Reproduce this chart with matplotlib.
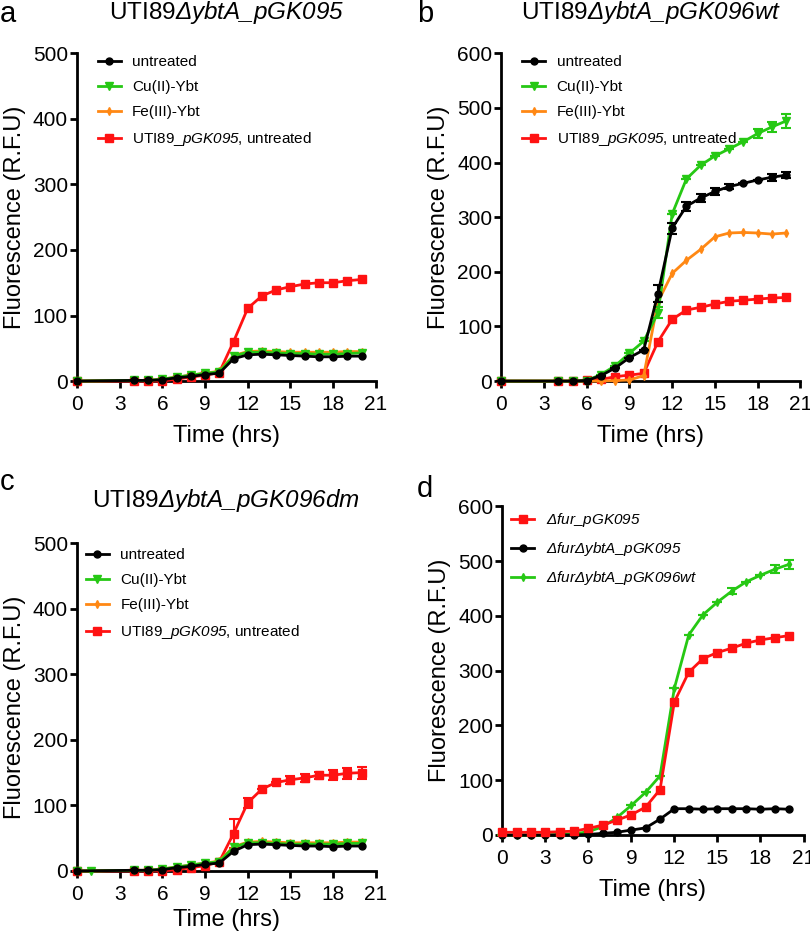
import matplotlib
matplotlib.use('Agg')
import matplotlib.pyplot as plt
import numpy as np

plt.rcParams['font.family'] = ['Liberation Sans', 'DejaVu Sans']
plt.rcParams['mathtext.fontset'] = 'custom'
# everything inside $...$ is italic here (digits and Greek too)
plt.rcParams['mathtext.rm'] = 'Liberation Sans:italic'
plt.rcParams['mathtext.it'] = 'Liberation Sans:italic'
plt.rcParams['mathtext.bf'] = 'Liberation Sans:bold'

RED = '#ff1212'
GREEN = '#26c814'
ORANGE = '#ff8814'
BLACK = '#000000'

# time points (hrs)
hrs = [0, 4, 5, 6, 7, 8, 9, 10, 11, 12, 13, 14, 15, 16, 17, 18, 19, 20]
hrs_c_cu = [0, 1, 4, 5, 6, 7, 8, 9, 10, 11, 12, 13, 14, 15, 16, 17, 18, 19, 20]
hrs_d = list(range(0, 21))

# panel a: UTI89 dybtA pGK095
a_untreated = [0, 1, 1, 2, 5, 7, 10, 12, 34, 40, 41, 40, 39, 38, 37, 37, 38, 38]
a_cu = [0, 1, 1, 3, 6, 9, 12, 14, 38, 44, 44, 43, 42, 42, 41, 41, 42, 43]
a_fe = [0, 1, 1, 3, 6, 9, 12, 15, 39, 45, 46, 45, 44, 44, 44, 44, 45, 45]
a_ref = [0, 0, 0, 0, 3, 6, 9, 13, 60, 111, 130, 139, 144, 148, 150, 150, 153, 155]

# panel b: UTI89 dybtA pGK096wt
b_untreated = [0, 0, 0, 1, 10, 24, 43, 57, 160, 280, 320, 335, 347, 356, 362, 368, 373, 377]
b_untreated_err = [0, 0, 0, 0, 0, 0, 0, 0, 16, 10, 8, 8, 7, 4, 0, 0, 6, 6]
b_cu = [0, 0, 0, 1, 12, 28, 51, 73, 125, 306, 370, 395, 412, 425, 438, 453, 465, 476]
b_cu_err = [0, 0, 0, 0, 0, 0, 0, 0, 10, 0, 0, 0, 0, 0, 0, 8, 10, 12]
b_fe = [0, 0, 0, 0, 0, 1, 2, 10, 145, 197, 221, 241, 264, 271, 272, 271, 269, 271]
b_ref = [0, 0, 0, 2, 3, 8, 11, 14, 72, 113, 130, 135, 141, 146, 148, 150, 152, 153]

# panel c: UTI89 dybtA pGK096dm
c_untreated = [0, 1, 1, 2, 5, 7, 10, 12, 30, 40, 41, 40, 39, 38, 38, 37, 38, 38]
c_cu = [0, 0, 1, 1, 3, 6, 9, 12, 14, 36, 43, 43, 42, 41, 41, 41, 41, 42, 42]
c_fe = [0, 1, 1, 3, 6, 9, 12, 15, 37, 44, 45, 44, 43, 43, 43, 43, 44, 44]
c_ref = [0, 0, 0, 0, 2, 5, 8, 14, 57, 104, 125, 135, 139, 142, 146, 146, 149, 150]
c_ref_err = [0, 0, 0, 0, 0, 0, 0, 0, 22, 8, 0, 0, 6, 6, 5, 8, 8, 9]

# panel d: fur mutants
d_fur = [5, 5, 5, 5, 6, 7, 12, 18, 27, 37, 51, 83, 243, 297, 322, 333, 341, 350, 356, 360, 364]
d_fur_ybta = [0, 0, 0, 0, 0, 0, 1, 3, 5, 9, 13, 29, 48, 48, 47, 48, 48, 48, 47, 48, 47]
d_fur_ybta_096 = [0, 0, 0, 0, 1, 2, 6, 15, 32, 54, 78, 108, 268, 365, 402, 425, 445, 462, 474, 485, 494]
d_fur_ybta_096_err = [0] * 16 + [6, 0, 0, 7, 8]

labels_abc = ['untreated', 'Cu(II)-Ybt', 'Fe(III)-Ybt', r'UTI89_$pGK095$, untreated']
labels_d = [r'$Δfur\_pGK095$', r'$ΔfurΔybtA\_pGK095$', r'$ΔfurΔybtA\_pGK096wt$']

styles = {
    'black': dict(color=BLACK, marker='o', ms=5),
    'green': dict(color=GREEN, marker='v', ms=5.5),
    'orange': dict(color=ORANGE, marker='d', ms=4),
    'red': dict(color=RED, marker='s', ms=5.5),
    'green_d': dict(color=GREEN, marker='d', ms=4),
}


def draw(ax, x, y, key, label, z, err=None):
    st = styles[key]
    ax.plot(x, y, color=st['color'], marker=st['marker'], ms=st['ms'], lw=2,
            label=label, zorder=z, clip_on=False)
    if err is not None:
        ax.errorbar(x, y, yerr=err, fmt='none', ecolor=st['color'], capsize=3.5,
                    capthick=1.5, elinewidth=1.5, zorder=z, clip_on=False)


def style(ax, ymax, xpad=8):
    ax.set_xlim(0, 21)
    ax.set_ylim(0, ymax)
    ax.set_xticks(range(0, 22, 3))
    ax.set_yticks(range(0, ymax + 1, 100))
    for s in ['top', 'right']:
        ax.spines[s].set_visible(False)
    for s in ['left', 'bottom']:
        ax.spines[s].set_linewidth(2)
    ax.tick_params(width=2, length=5, labelsize=15)
    ax.tick_params(axis='x', pad=5)
    ax.tick_params(axis='y', pad=1.5)
    ax.set_xlabel('Time (hrs)', fontsize=17, labelpad=xpad)
    ax.set_ylabel('Fluorescence (R.F.U)', fontsize=17, labelpad=5)


fig = plt.figure(figsize=(8.1, 9.34), dpi=100)
ax_a = fig.add_axes([0.095, 0.592, 0.369, 0.351])
ax_b = fig.add_axes([0.619, 0.592, 0.369, 0.351])
ax_c = fig.add_axes([0.095, 0.0675, 0.369, 0.351])
ax_d = fig.add_axes([0.620, 0.106, 0.372, 0.352])

# panel a
draw(ax_a, hrs, a_untreated, 'black', labels_abc[0], 6)
draw(ax_a, hrs, a_cu, 'green', labels_abc[1], 5)
draw(ax_a, hrs, a_fe, 'orange', labels_abc[2], 4)
draw(ax_a, hrs, a_ref, 'red', labels_abc[3], 3)
style(ax_a, 500)

# panel b
draw(ax_b, hrs, b_untreated, 'black', labels_abc[0], 6, b_untreated_err)
draw(ax_b, hrs, b_cu, 'green', labels_abc[1], 5, b_cu_err)
draw(ax_b, hrs, b_fe, 'orange', labels_abc[2], 4)
draw(ax_b, hrs, b_ref, 'red', labels_abc[3], 3)
style(ax_b, 600)

# panel c
draw(ax_c, hrs, c_untreated, 'black', labels_abc[0], 6)
draw(ax_c, hrs_c_cu, c_cu, 'green', labels_abc[1], 5)
draw(ax_c, hrs, c_fe, 'orange', labels_abc[2], 4)
draw(ax_c, hrs, c_ref, 'red', labels_abc[3], 3, c_ref_err)
style(ax_c, 500, xpad=4)

# panel d
draw(ax_d, hrs_d, d_fur, 'red', labels_d[0], 5)
draw(ax_d, hrs_d, d_fur_ybta, 'black', labels_d[1], 4)
draw(ax_d, hrs_d, d_fur_ybta_096, 'green_d', labels_d[2], 3, d_fur_ybta_096_err)
style(ax_d, 600)

leg_kw = dict(frameon=False, fontsize=11, handlelength=1.5, handletextpad=0.75,
              labelspacing=0.72, borderaxespad=0, borderpad=0, loc='upper left')
ax_a.legend(bbox_to_anchor=(0.07, 0.995), **leg_kw)
ax_b.legend(bbox_to_anchor=(0.07, 0.995), **leg_kw)
ax_c.legend(bbox_to_anchor=(0.03, 0.985), **leg_kw)
ax_d.legend(bbox_to_anchor=(0.03, 0.985), **leg_kw)

ax_a.set_title(r'UTI89$ΔybtA\_pGK095$', fontsize=17.5, pad=25)
ax_b.set_title(r'UTI89$ΔybtA\_pGK096wt$', fontsize=17.5, pad=25)
ax_c.set_title(r'UTI89$ΔybtA\_pGK096dm$', fontsize=17.5, pad=26)

fig.text(0.0, 1 - 22 / 934, 'a', fontsize=21, va='baseline')
fig.text(417 / 810, 1 - 22 / 934, 'b', fontsize=21, va='baseline')
fig.text(0.0, 1 - 490 / 934, 'c', fontsize=21, va='baseline')
fig.text(417 / 810, 1 - 497 / 934, 'd', fontsize=21, va='baseline')

fig.savefig('out.png', dpi=100)
